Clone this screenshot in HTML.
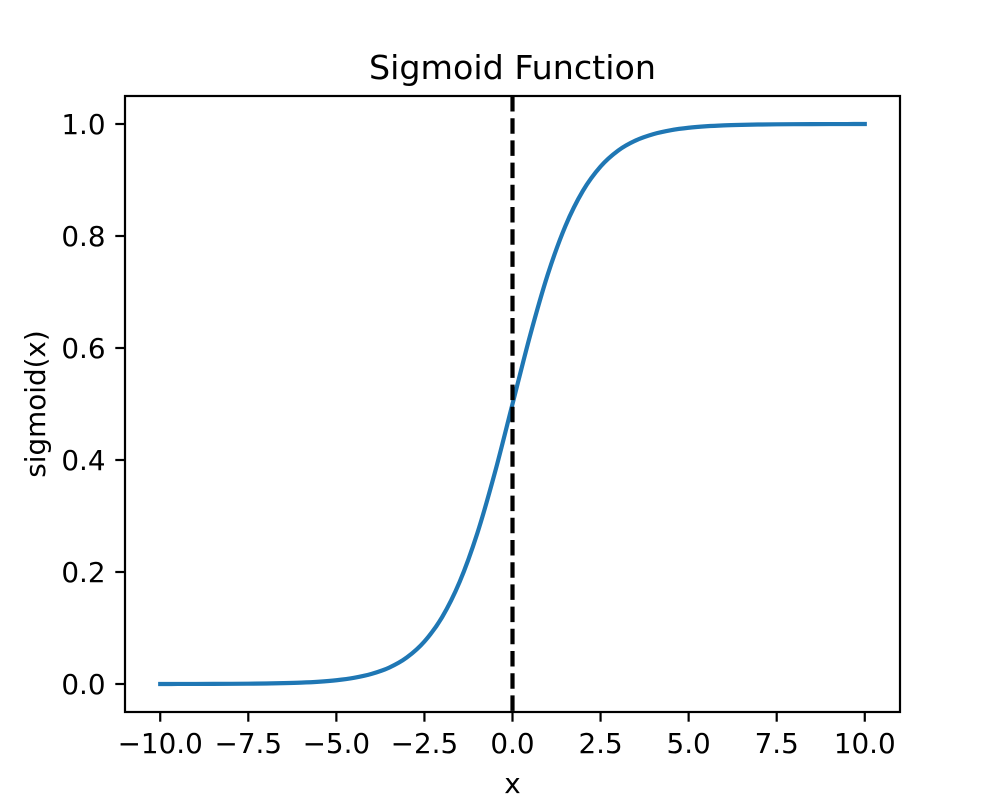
<!DOCTYPE html>
<html><head><meta charset="utf-8"><style>
html,body{margin:0;padding:0;background:#fff;}
svg{display:block;font-family:"DejaVu Sans","Liberation Sans",sans-serif;}
</style></head><body>
<svg id="chart" width="1000" height="800" viewBox="0 0 1000 800">
<rect x="0" y="0" width="1000" height="800" fill="#fff"/>
<g id="plot"></g>
</svg>
<script>
const xValues = [-10,-9.5,-9,-8.5,-8,-7.5,-7,-6.5,-6,-5.5,-5,-4.5,-4,-3.5,-3,-2.5,-2,-1.5,-1,-0.5,0,0.5,1,1.5,2,2.5,3,3.5,4,4.5,5,5.5,6,6.5,7,7.5,8,8.5,9,9.5,10];
const yValues = [0.0000454,0.000075,0.000123,0.000203,0.000335,0.000553,0.000911,0.0015,0.00247,0.00407,0.00669,0.011,0.018,0.0293,0.0474,0.0759,0.1192,0.1824,0.2689,0.3775,0.5,0.6225,0.7311,0.8176,0.8808,0.9241,0.9526,0.9707,0.982,0.989,0.99331,0.99593,0.99753,0.9985,0.999089,0.999447,0.999665,0.999797,0.999877,0.999925,0.9999546];
const xTicks = [-10,-7.5,-5,-2.5,0,2.5,5,7.5,10];
const xTickLabels = ["\u221210.0","\u22127.5","\u22125.0","\u22122.5","0.0","2.5","5.0","7.5","10.0"];
const yTicks = [0,0.2,0.4,0.6,0.8,1.0];
const yTickLabels = ["0.0","0.2","0.4","0.6","0.8","1.0"];
const vlineX = [0];

const L=125,R=900,T=96,B=712;
const xMin=-11,xMax=11,yMin=-0.05,yMax=1.05;
const sx=v=>L+(v-xMin)/(xMax-xMin)*(R-L);
const sy=v=>B-(v-yMin)/(yMax-yMin)*(B-T);
const NS="http://www.w3.org/2000/svg";
const g=document.getElementById('plot');
function mk(tag,attrs){const e=document.createElementNS(NS,tag);for(const k in attrs)e.setAttribute(k,attrs[k]);g.appendChild(e);return e;}

// curve (Catmull-Rom smoothing through data points)
const pts=xValues.map((x,i)=>[sx(x),sy(yValues[i])]);
let d='M'+pts[0][0].toFixed(2)+','+pts[0][1].toFixed(2);
for(let i=0;i<pts.length-1;i++){
  const p0=pts[Math.max(i-1,0)],p1=pts[i],p2=pts[i+1],p3=pts[Math.min(i+2,pts.length-1)];
  const c1=[p1[0]+(p2[0]-p0[0])/6,p1[1]+(p2[1]-p0[1])/6];
  const c2=[p2[0]-(p3[0]-p1[0])/6,p2[1]-(p3[1]-p1[1])/6];
  d+=' C'+c1[0].toFixed(2)+','+c1[1].toFixed(2)+' '+c2[0].toFixed(2)+','+c2[1].toFixed(2)+' '+p2[0].toFixed(2)+','+p2[1].toFixed(2);
}
const curve=mk('path',{d:d,fill:'none',stroke:'#1f77b4','stroke-width':4.2,'stroke-linejoin':'round','stroke-linecap':'square'});



// vertical dashed line
vlineX.forEach(v=>{
  const l=mk('line',{x1:sx(v),x2:sx(v),y1:T,y2:B,stroke:'#000','stroke-width':4.2,'stroke-dasharray':'15.5 6.7'});
  
  
});

// frame
const fr=mk('rect',{x:L,y:T,width:R-L,height:B-T,fill:'none',stroke:'#000','stroke-width':2.2});



// x ticks
xTicks.forEach((v,i)=>{
  const t=mk('line',{x1:sx(v),x2:sx(v),y1:B,y2:B+9.7,stroke:'#000','stroke-width':2.2});
  
  
  const tx=mk('text',{x:sx(v),y:B+9.7+9.7+21.5,'text-anchor':'middle','font-size':27.8,fill:'#000'});
  tx.textContent=xTickLabels[i];
  
  
});
// y ticks
yTicks.forEach((v,i)=>{
  const t=mk('line',{x1:L-9.7,x2:L,y1:sy(v),y2:sy(v),stroke:'#000','stroke-width':2.2});
  
  
  const tx=mk('text',{x:L-9.7-9.7,y:sy(v)+10,'text-anchor':'end','font-size':27.8,fill:'#000'});
  tx.textContent=yTickLabels[i];
  
  
});
// labels
const xl=mk('text',{x:(L+R)/2,y:793,'text-anchor':'middle','font-size':27.8,fill:'#000'});
xl.textContent='x';


const yl=mk('text',{x:0,y:0,'text-anchor':'middle','font-size':27.8,fill:'#000',transform:'translate(45,'+((T+B)/2)+') rotate(-90)'});
yl.textContent='sigmoid(x)';


const ti=mk('text',{x:(L+R)/2,y:79,'text-anchor':'middle','font-size':33.3,fill:'#000'});
ti.textContent='Sigmoid Function';


</script>
</body></html>
